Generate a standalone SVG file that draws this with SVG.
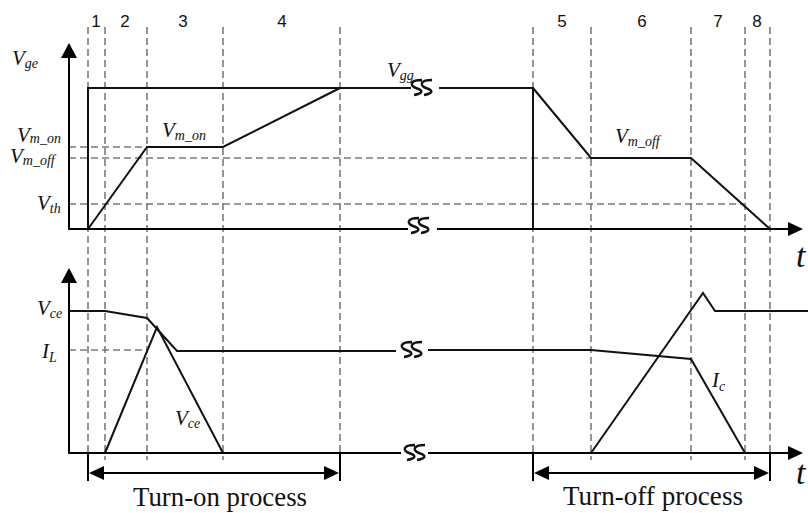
<svg xmlns="http://www.w3.org/2000/svg" width="808" height="513" viewBox="0 0 808 513">
<style>
.ax{stroke:#000;stroke-width:2;fill:none}
.w{stroke:#111;stroke-width:2;fill:none;stroke-linejoin:miter}
.d{stroke:#7a7a7a;stroke-width:1.6;stroke-dasharray:7,4;fill:none}
.br{stroke:#111;stroke-width:2.4;fill:none}
.ah{fill:#000}
.m{font-family:"Liberation Serif",serif;font-style:italic;font-size:21px;fill:#111}
.s{font-size:14px}
.n{font-family:"Liberation Sans",sans-serif;font-size:17px;fill:#111;text-anchor:middle}
.p{font-family:"Liberation Serif",serif;font-size:27px;fill:#111}
.t{font-family:"Liberation Serif",serif;font-style:italic;font-size:34px;fill:#111}
</style>
<rect width="808" height="513" fill="#fff"/>
<g id="grid">
<path class="d" d="M88,27V453M105,27V460M147,27V460M223,27V460M340,27V453M533,27V453M591,27V460M691,27V460M745,27V460M770,27V453"/>
<path class="d" d="M69,147H147M69,158H591M69,204H745M69,350H147"/>
</g>
<g id="phases">
<text class="n" x="96" y="27">1</text>
<text class="n" x="125" y="27">2</text>
<text class="n" x="183" y="27">3</text>
<text class="n" x="282" y="27">4</text>
<text class="n" x="562" y="27">5</text>
<text class="n" x="642" y="27">6</text>
<text class="n" x="718" y="27">7</text>
<text class="n" x="757" y="27">8</text>
</g>
<g id="axes">
<path class="ax" d="M69,56V229H408M437,229H790"/>
<path class="ah" d="M69,43L61,58H77Z"/>
<path class="ah" d="M803,229L788,222V236Z"/>
<path class="ax" d="M69,281V453H401M428,453H790"/>
<path class="ah" d="M69,268L61,283H77Z"/>
<path class="ah" d="M803,453L788,446V460Z"/>
</g>
<g id="breaks">
<path class="br" d="M422,80C409,80 410,86 416,88S425,93 414,95M432,80C419,80 420,86 426,88S435,93 424,95"/>
<path class="br" d="M419,218C406,218 407,224 413,226S422,231 411,233M429,218C416,218 417,224 423,226S432,231 421,233"/>
<path class="br" d="M412,342C399,342 400,348 406,350S415,355 404,357M422,342C409,342 410,348 416,350S425,355 414,357"/>
<path class="br" d="M415,445C402,445 403,451 409,453S418,458 407,460M425,445C412,445 413,451 419,453S428,458 417,460"/>
</g>
<g id="vge">
<path class="w" d="M88,229V88H411M439,88H533V229"/>
<path class="w" d="M88,229L147,147H223L340,88"/>
<path class="w" d="M533,88L591,158H691L770,229"/>
</g>
<g id="bottom-waves">
<path class="w" d="M69,311H105L147,318L177,351H396"/>
<path class="w" d="M105,453L157,327L223,453"/>
<path class="w" d="M428,350H591L691,359L745,453"/>
<path class="w" d="M591,453L703,293L715,311H808"/>
</g>
<g id="process-arrows">
<path class="ax" d="M88,453V481M340,453V481M533,453V481M770,453V481"/>
<path class="ax" d="M100,473H328M545,473H758"/>
<path class="ah" d="M89,473L104,466V480Z"/>
<path class="ah" d="M339,473L324,466V480Z"/>
<path class="ah" d="M534,473L549,466V480Z"/>
<path class="ah" d="M769,473L754,466V480Z"/>
<text class="p" x="133" y="506" textLength="174" lengthAdjust="spacingAndGlyphs">Turn-on process</text>
<text class="p" x="563" y="505" textLength="180" lengthAdjust="spacingAndGlyphs">Turn-off process</text>
</g>
<g id="labels">
<text class="m" x="12" y="65">V<tspan class="s" dy="3">ge</tspan></text>
<text class="m" x="17" y="142">V<tspan class="s" dy="1">m_on</tspan></text>
<text class="m" x="10" y="163">V<tspan class="s" dy="2">m_off</tspan></text>
<text class="m" x="37" y="210">V<tspan class="s" dy="3">th</tspan></text>
<text class="m" x="162" y="137">V<tspan class="s" dy="3">m_on</tspan></text>
<text class="m" x="387" y="77">V<tspan class="s" dy="3">gg</tspan></text>
<text class="m" x="615" y="143">V<tspan class="s" dy="3">m_off</tspan></text>
<text class="m" x="37" y="315">V<tspan class="s" dy="3">ce</tspan></text>
<text class="m" x="42" y="358">I<tspan class="s" dy="4">L</tspan></text>
<text class="m" x="175" y="425">V<tspan class="s" dy="3">ce</tspan></text>
<text class="m" x="712" y="387">I<tspan class="s" dy="4">c</tspan></text>
<text class="t" x="796" y="267">t</text>
<text class="t" x="796" y="484">t</text>
</g>
</svg>
